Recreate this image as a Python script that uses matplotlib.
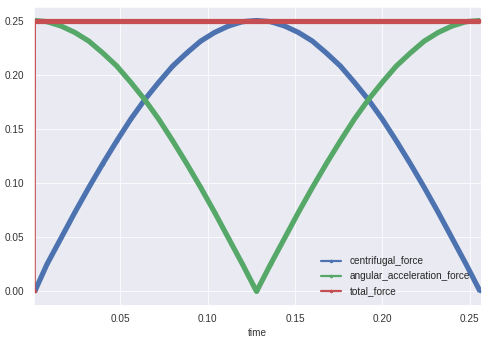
import matplotlib
matplotlib.use("Agg")
import matplotlib.pyplot as plt
import seaborn as sns

# values, every 0.008 s
time = [0.001, 0.008, 0.016, 0.024, 0.032, 0.040, 0.048, 0.056, 0.064,
        0.072, 0.080, 0.088, 0.096, 0.104, 0.112, 0.120, 0.128,
        0.136, 0.144, 0.152, 0.160, 0.168, 0.176, 0.184, 0.192,
        0.200, 0.208, 0.216, 0.224, 0.232, 0.240, 0.248, 0.256]
centrifugal_force = [0.000, 0.025, 0.049, 0.073, 0.096, 0.118, 0.139, 0.159, 0.177,
                     0.193, 0.208, 0.220, 0.231, 0.239, 0.245, 0.249, 0.250,
                     0.249, 0.245, 0.239, 0.231, 0.220, 0.208, 0.193, 0.177,
                     0.159, 0.139, 0.118, 0.096, 0.073, 0.049, 0.025, 0.000]
angular_acceleration_force = [0.250, 0.249, 0.245, 0.239, 0.231, 0.220, 0.208, 0.193, 0.177,
                              0.159, 0.139, 0.118, 0.096, 0.073, 0.049, 0.025, 0.000,
                              0.025, 0.049, 0.073, 0.096, 0.118, 0.139, 0.159, 0.177,
                              0.193, 0.208, 0.220, 0.231, 0.239, 0.245, 0.249, 0.250]
# total force jumps from 0 to 0.25 right at the first sample
total_time = [0.001, 0.0011] + time[1:]
total_force = [0.000, 0.250] + [0.250] * 32

sns.set_style("darkgrid")
plt.rcParams['font.family'] = ['Liberation Sans', 'DejaVu Sans']

fig = plt.figure(figsize=(487 / 72, 344 / 72), dpi=72)
ax = fig.add_axes([34 / 487, 39 / 344, 447 / 487, 298 / 344])

series = [
    ("centrifugal_force", time, centrifugal_force, "#4C72B0"),
    ("angular_acceleration_force", time, angular_acceleration_force, "#55A868"),
    ("total_force", total_time, total_force, "#C44E52"),
]
for name, t, vals, col in series:
    ax.plot(t, vals, color=col, lw=2.2, marker=".", ms=5, label=name)
    start = 1 if name == "total_force" else 0
    ax.plot(t[start:], vals[start:], color=col, lw=5.2, solid_capstyle="butt")

ax.set_xlim(0.0006, 0.2565)
ax.set_ylim(-0.0125, 0.2625)
ax.set_xticks([0.05, 0.10, 0.15, 0.20, 0.25])
ax.set_xticklabels(["0.05", "0.10", "0.15", "0.20", "0.25"])
ax.set_yticks([0.0, 0.05, 0.10, 0.15, 0.20, 0.25])
ax.set_yticklabels(["0.00", "0.05", "0.10", "0.15", "0.20", "0.25"])
ax.tick_params(labelsize=10, colors="#333333", pad=6)
ax.set_xlabel("time", fontsize=10, color="#333333", labelpad=3)
ax.legend(loc="lower right", fontsize=10, frameon=False, handlelength=2.0,
          bbox_to_anchor=(0.995, 0.0))

fig.savefig("out.png", dpi=72)
